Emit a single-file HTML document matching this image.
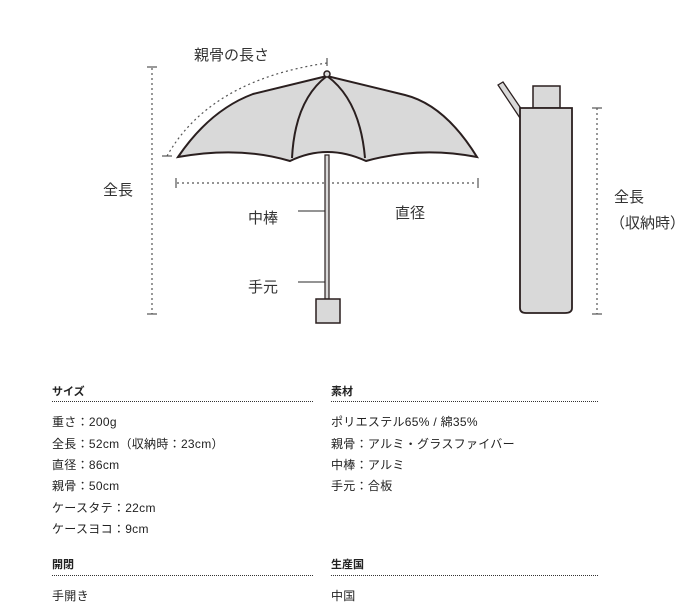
<!DOCTYPE html>
<html><head><meta charset="utf-8"><style>
body{margin:0;width:690px;height:613px;background:#fff;position:relative;overflow:hidden;font-family:"Liberation Sans","Noto Sans CJK JP",sans-serif;color:#222}
.t{position:absolute;white-space:nowrap}
.lab{font-size:15px;color:#333}
.h{font-size:11px;font-weight:bold}
.r{font-size:12px;color:#222;letter-spacing:0.3px}
.ln{position:absolute;height:0;border-top:1px dotted #333}
</style></head><body>
<svg width="690" height="340" style="position:absolute;left:0;top:0">
<g stroke="#555" stroke-width="1.2" fill="none" stroke-dasharray="2,3">
<line x1="152" y1="68" x2="152" y2="314"/>
<path d="M167,156 Q210,80 327,63"/>
<line x1="177" y1="183" x2="477" y2="183"/>
<line x1="597" y1="108" x2="597" y2="314"/>
</g>
<g stroke="#555" stroke-width="1.2">
<line x1="147" y1="67" x2="157" y2="67"/><line x1="147" y1="314" x2="157" y2="314"/>
<line x1="162" y1="156" x2="172" y2="156"/><line x1="327" y1="58" x2="327" y2="66"/>
<line x1="176" y1="178" x2="176" y2="188"/><line x1="478" y1="178" x2="478" y2="188"/>
<line x1="592" y1="108" x2="602" y2="108"/><line x1="592" y1="314" x2="602" y2="314"/>
<line x1="298" y1="211" x2="327" y2="211"/><line x1="298" y1="282" x2="327" y2="282"/>
</g>
<path d="M327,76 L253,94 Q210,110 178,157 Q240,146 290,161 Q327,143 366,161 Q420,146 477,157 Q445,105 405,95 Z" fill="#d9d9d9" stroke="#2a1f1f" stroke-width="2"/>
<path d="M327,76 Q295,100 292,158 M327,76 Q360,100 365,158" fill="none" stroke="#2a1f1f" stroke-width="2"/>
<circle cx="327" cy="74" r="3" fill="#d9d9d9" stroke="#2a1f1f" stroke-width="1.5"/>
<rect x="325" y="155" width="4" height="144" fill="#d9d9d9" stroke="#2a1f1f" stroke-width="1.2"/>
<rect x="316" y="299" width="24" height="24" fill="#d9d9d9" stroke="#2a1f1f" stroke-width="1.5"/>
<path d="M498,85 L503,82 L522,110 L520,118 Z" fill="#d9d9d9" stroke="#2a1f1f" stroke-width="1.3"/>
<rect x="533" y="86" width="27" height="22" fill="#d9d9d9" stroke="#2a1f1f" stroke-width="1.5"/>
<path d="M520,108 L572,108 L572,308 Q572,313 565,313 L526,313 Q520,313 520,308 Z" fill="#d9d9d9" stroke="#2a1f1f" stroke-width="1.8"/>
</svg>
<div class="t lab" style="left:194px;top:44px">親骨の長さ</div>
<div class="t lab" style="left:103px;top:179px">全長</div>
<div class="t lab" style="left:248px;top:207px">中棒</div>
<div class="t lab" style="left:395px;top:202px">直径</div>
<div class="t lab" style="left:248px;top:276px">手元</div>
<div class="t lab" style="left:614px;top:186px">全長</div>
<div class="t lab" style="left:610px;top:212px">（収納時）</div>

<div class="t h" style="left:52px;top:383px">サイズ</div>
<div class="ln" style="left:52px;width:261px;top:401px"></div>
<div class="t h" style="left:331px;top:383px">素材</div>
<div class="ln" style="left:331px;width:267px;top:401px"></div>
<div class="t r" style="left:52px;top:413px">重さ：200g</div>
<div class="t r" style="left:52px;top:435px">全長：52cm（収納時：23cm）</div>
<div class="t r" style="left:52px;top:456px">直径：86cm</div>
<div class="t r" style="left:52px;top:477px">親骨：50cm</div>
<div class="t r" style="left:52px;top:499px">ケースタテ：22cm</div>
<div class="t r" style="left:52px;top:520px">ケースヨコ：9cm</div>
<div class="t r" style="left:331px;top:413px">ポリエステル65% / 綿35%</div>
<div class="t r" style="left:331px;top:435px">親骨：アルミ・グラスファイバー</div>
<div class="t r" style="left:331px;top:456px">中棒：アルミ</div>
<div class="t r" style="left:331px;top:477px">手元：合板</div>
<div class="t h" style="left:52px;top:556px">開閉</div>
<div class="ln" style="left:52px;width:261px;top:575px"></div>
<div class="t h" style="left:331px;top:556px">生産国</div>
<div class="ln" style="left:331px;width:267px;top:575px"></div>
<div class="t r" style="left:52px;top:587px">手開き</div>
<div class="t r" style="left:331px;top:587px">中国</div>
</body></html>
